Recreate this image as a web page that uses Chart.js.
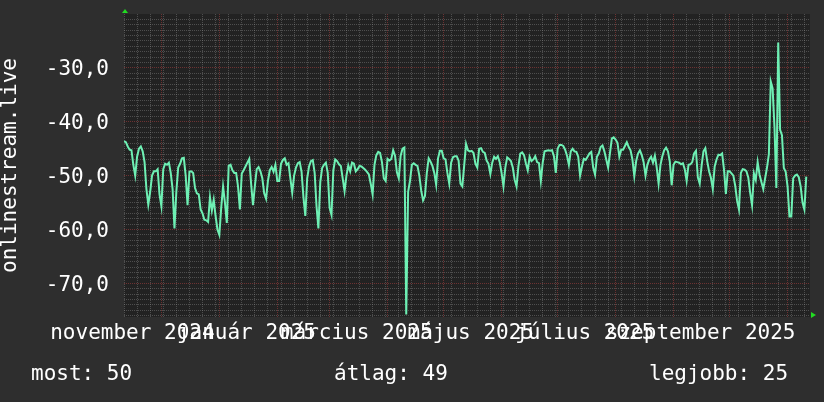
<!DOCTYPE html>
<html>
<head>
<meta charset="utf-8">
<script src="https://cdn.jsdelivr.net/npm/chart.js@4.4.1/dist/chart.umd.min.js"></script>
<style>
  html, body { margin: 0; padding: 0; background: #2e2e2e; }
</style>
</head>
<body>
<canvas id="signal" width="824" height="402"></canvas>
<script>
// days are counted from 2024-11-01; the graph starts on monday 2024-11-11
const firstDay = 10;

const nov2024 = [-43.6, -43.8, -44.6, -45.2, -45.3, -48, -50, -46.5, -45, -44.6,
  -45.5, -47.5, -52.5, -55.4, -53, -50, -49.2, -49.2, -48.8, -53.5];
const dec2024 = [-55.7, -48.8, -47.8, -48, -47.6, -49.5, -52.5, -59.8, -53, -48.5,
  -47.8, -46.8, -46.7, -50, -55.5, -49.3, -49.2, -49.5, -52.3, -53.3,
  -53.5, -56.3, -57, -58.2, -58.3, -58.6, -54, -56.5, -54.5, -57.5, -60];
const jan2025 = [-61, -56, -52, -55, -58.8, -48.2, -48, -49, -49.5, -49.5,
  -52, -56.3, -49.6, -49, -48.3, -47.6, -46.9, -51.5, -55.5, -52,
  -48.8, -48.4, -49.2, -50.5, -53.3, -54.3, -51, -49, -48.4, -49.3, -48];
const feb2025 = [-51, -51, -47.8, -47.1, -46.8, -48, -47.7, -50.5, -53.2, -50,
  -48.5, -47.7, -47.5, -49.3, -54, -57.5, -50.5, -48.3, -47.3, -47.1,
  -49.5, -55.7, -59.8, -51.2, -48.6, -48, -47.6, -49.5];
const mar2025 = [-56, -57.3, -49, -47, -47.3, -47.9, -48.2, -50.5, -52.9, -50,
  -48.1, -49.2, -47.6, -47.8, -49.2, -48.8, -48.2, -48.3, -48.6, -48.9,
  -49.3, -49.8, -51.5, -53.5, -48, -46.2, -45.6, -45.8, -47.5, -50.5, -51];
const apr2025 = [-46.9, -47.2, -46.9, -45.3, -46.3, -49.4, -50.5, -46.3, -45, -44.8,
  -75.8, -53, -51, -48, -47.7, -48, -48.2, -50, -52.8, -54.6,
  -53.8, -49.5, -46.8, -47.4, -48.2, -49.5, -51.7, -46.8, -45.4, -45.4];
const may2025 = [-46.8, -47, -49.5, -51.5, -47.6, -46.6, -46.4, -46.4, -47.2, -51.5,
  -52, -48.1, -44.1, -45.3, -45.5, -45.4, -45.8, -47.8, -48.5, -45,
  -44.9, -45.6, -45.8, -47.2, -47.8, -49.7, -47.6, -46.5, -46.9, -46.4, -47.5];
const jun2025 = [-49.5, -52, -48.5, -46.6, -46.9, -47.3, -48.5, -50.8, -52, -48.3,
  -45.9, -45.7, -46.2, -47.7, -49, -46.5, -47.3, -47, -46.4, -47.5,
  -47.7, -51, -47.6, -45.5, -45.4, -45.3, -45.4, -45.3, -46.4, -49.5];
const jul2025 = [-45, -44.3, -44.3, -44.5, -45.2, -46.3, -48, -45.5, -45, -45.5,
  -45.6, -46.5, -50, -48.3, -46.9, -47.1, -46.5, -45.9, -45.6, -48.5,
  -49.8, -46.5, -45.9, -44.7, -44.4, -45.5, -47, -48.5, -45.8, -43.1, -42.9];
const aug2025 = [-43.3, -43.9, -46.5, -45.2, -45.2, -44.5, -43.8, -44.7, -45.3, -47,
  -50.1, -47.3, -45.9, -45.3, -46.2, -47.5, -50, -48, -47, -46.5,
  -47.6, -46.3, -48.5, -51.5, -48, -46.4, -45.3, -44.8, -45.5, -47.4, -51.8];
const sep2025 = [-48, -47.4, -47.5, -47.6, -47.9, -47.7, -48.8, -51, -48, -47.9,
  -47.5, -45.9, -45.4, -50.3, -51.5, -48.2, -45.5, -44.9, -47.3, -49.2,
  -50.4, -52.5, -48.3, -47, -46.1, -46.2, -45.9, -48.9, -53.4, -49.2];
const oct2025 = [-49.2, -49.6, -50, -51.9, -54.7, -56.3, -49.5, -48.8, -48.9, -49.2,
  -50.4, -53.2, -55.5, -49.6, -50.8, -47.5, -49.8, -51.2, -52.5, -50.5,
  -48.5, -46, -32.5, -33.8, -41, -52.3, -25.3, -41.5, -42.5, -48.6, -49.3];
const nov2025 = [-52, -57.6, -57.6, -50.5, -50, -49.8, -50.3, -52, -55, -56.3, -50.2];

const months = [nov2024, dec2024, jan2025, feb2025, mar2025, apr2025,
  may2025, jun2025, jul2025, aug2025, sep2025, oct2025, nov2025];

// first day of each month (major grid)
const monthStarts = [30, 61, 92, 120, 151, 181, 212, 242, 273, 304, 334, 365];
// month labels sit in the middle of their month
const labelDays = [14.5, 75.5, 134.5, 195.5, 256.5, 318.5];
const labelNames = ['november 2024', 'január 2025', 'március 2025',
  'május 2025', 'július 2025', 'szeptember 2025'];

const summary = [['most', 50], ['átlag', 49], ['legjobb', 25]];

const points = [];
let day = firstDay;
months.forEach(m => m.forEach(v => { points.push({ x: day, y: v }); day++; }));

// weekly (monday) minor grid
const mondays = [];
for (let d = firstDay; d <= 377; d += 7) mondays.push(d);

const labelAt = {};
labelDays.forEach((d, i) => labelAt[d] = labelNames[i]);

const xTicks = [...new Set([...mondays, ...monthStarts, ...labelDays])].sort((a, b) => a - b);
const yTicks = [];
for (let v = -76; v <= -21; v++) yTicks.push(v);

const FONT = { family: 'DejaVu Sans Mono', size: 21, lineHeight: 1 };
const TEXT = '#ffffff';
const MINOR = 'rgba(150,150,150,0.38)';
const MAJOR = 'rgba(200,70,70,0.45)';

// label overflow must not push the plot area around
const noOverflow = s => { s.paddingTop = 0; s.paddingBottom = 0; s.paddingLeft = 0; s.paddingRight = 0; };

const rrdLook = {
  id: 'rrdLook',
  beforeDraw(chart) {
    const { ctx, chartArea: a } = chart;
    ctx.save();
    ctx.fillStyle = '#2e2e2e';
    ctx.fillRect(0, 0, chart.width, chart.height);
    ctx.fillStyle = '#222222';
    ctx.fillRect(a.left, a.top, a.right - a.left, a.bottom - a.top);
    ctx.restore();
  },
  afterDraw(chart) {
    const { ctx, chartArea: a } = chart;
    ctx.save();
    // axis arrows
    ctx.fillStyle = '#22dd22';
    ctx.beginPath();
    ctx.moveTo(a.left + 1, a.top - 5);
    ctx.lineTo(a.left - 2, a.top - 1);
    ctx.lineTo(a.left + 4, a.top - 1);
    ctx.fill();
    ctx.beginPath();
    ctx.moveTo(a.right + 6, a.bottom - 2);
    ctx.lineTo(a.right + 1, a.bottom - 5);
    ctx.lineTo(a.right + 1, a.bottom + 1);
    ctx.fill();
    // summary line
    ctx.fillStyle = TEXT;
    ctx.font = '21px "DejaVu Sans Mono"';
    ctx.textBaseline = 'alphabetic';
    const xs = [31, 334, 649];
    summary.forEach(([name, val], i) => ctx.fillText(name + ': ' + val, xs[i], 380));
    ctx.restore();
  }
};

new Chart(document.getElementById('signal'), {
  type: 'line',
  data: {
    datasets: [{
      data: points,
      borderColor: '#6ef0b4',
      borderWidth: 2,
      pointRadius: 0,
      tension: 0,
      fill: false
    }]
  },
  options: {
    responsive: false,
    animation: false,
    layout: { padding: { top: 14, right: 14, bottom: 45, left: 0 } },
    plugins: { legend: { display: false }, tooltip: { enabled: false } },
    scales: {
      x: {
        type: 'linear',
        min: 10,
        max: 377,
        afterBuildTicks: s => { s.ticks = xTicks.map(v => ({ value: v })); },
        afterFit: s => { s.height = 40; noOverflow(s); },
        ticks: {
          autoSkip: false,
          maxRotation: 0,
          padding: 6,
          color: TEXT,
          font: FONT,
          callback: v => labelAt[v] || ''
        },
        grid: {
          drawTicks: false,
          color: c => labelAt[c.tick.value] ? 'rgba(0,0,0,0)'
            : monthStarts.includes(c.tick.value) ? MAJOR : MINOR,
          lineWidth: c => labelAt[c.tick.value] ? 0 : 1
        },
        border: { display: false, dash: [1, 1] }
      },
      y: {
        min: -76.25,
        max: -20,
        afterBuildTicks: s => { s.ticks = yTicks.map(v => ({ value: v })); },
        afterFit: s => { s.width = 124; noOverflow(s); },
        ticks: {
          autoSkip: false,
          padding: 15,
          labelOffset: 2,
          color: TEXT,
          font: FONT,
          callback: v => v % 10 === 0 ? v.toFixed(1).replace('.', ',') : ''
        },
        grid: {
          drawTicks: false,
          color: c => c.tick.value % 10 === 0 ? MAJOR : MINOR
        },
        border: { display: false, dash: [1, 1] },
        title: {
          display: true,
          text: 'onlinestream.live',
          color: TEXT,
          font: FONT,
          padding: 0
        }
      }
    }
  },
  plugins: [rrdLook]
});
</script>
</body>
</html>
